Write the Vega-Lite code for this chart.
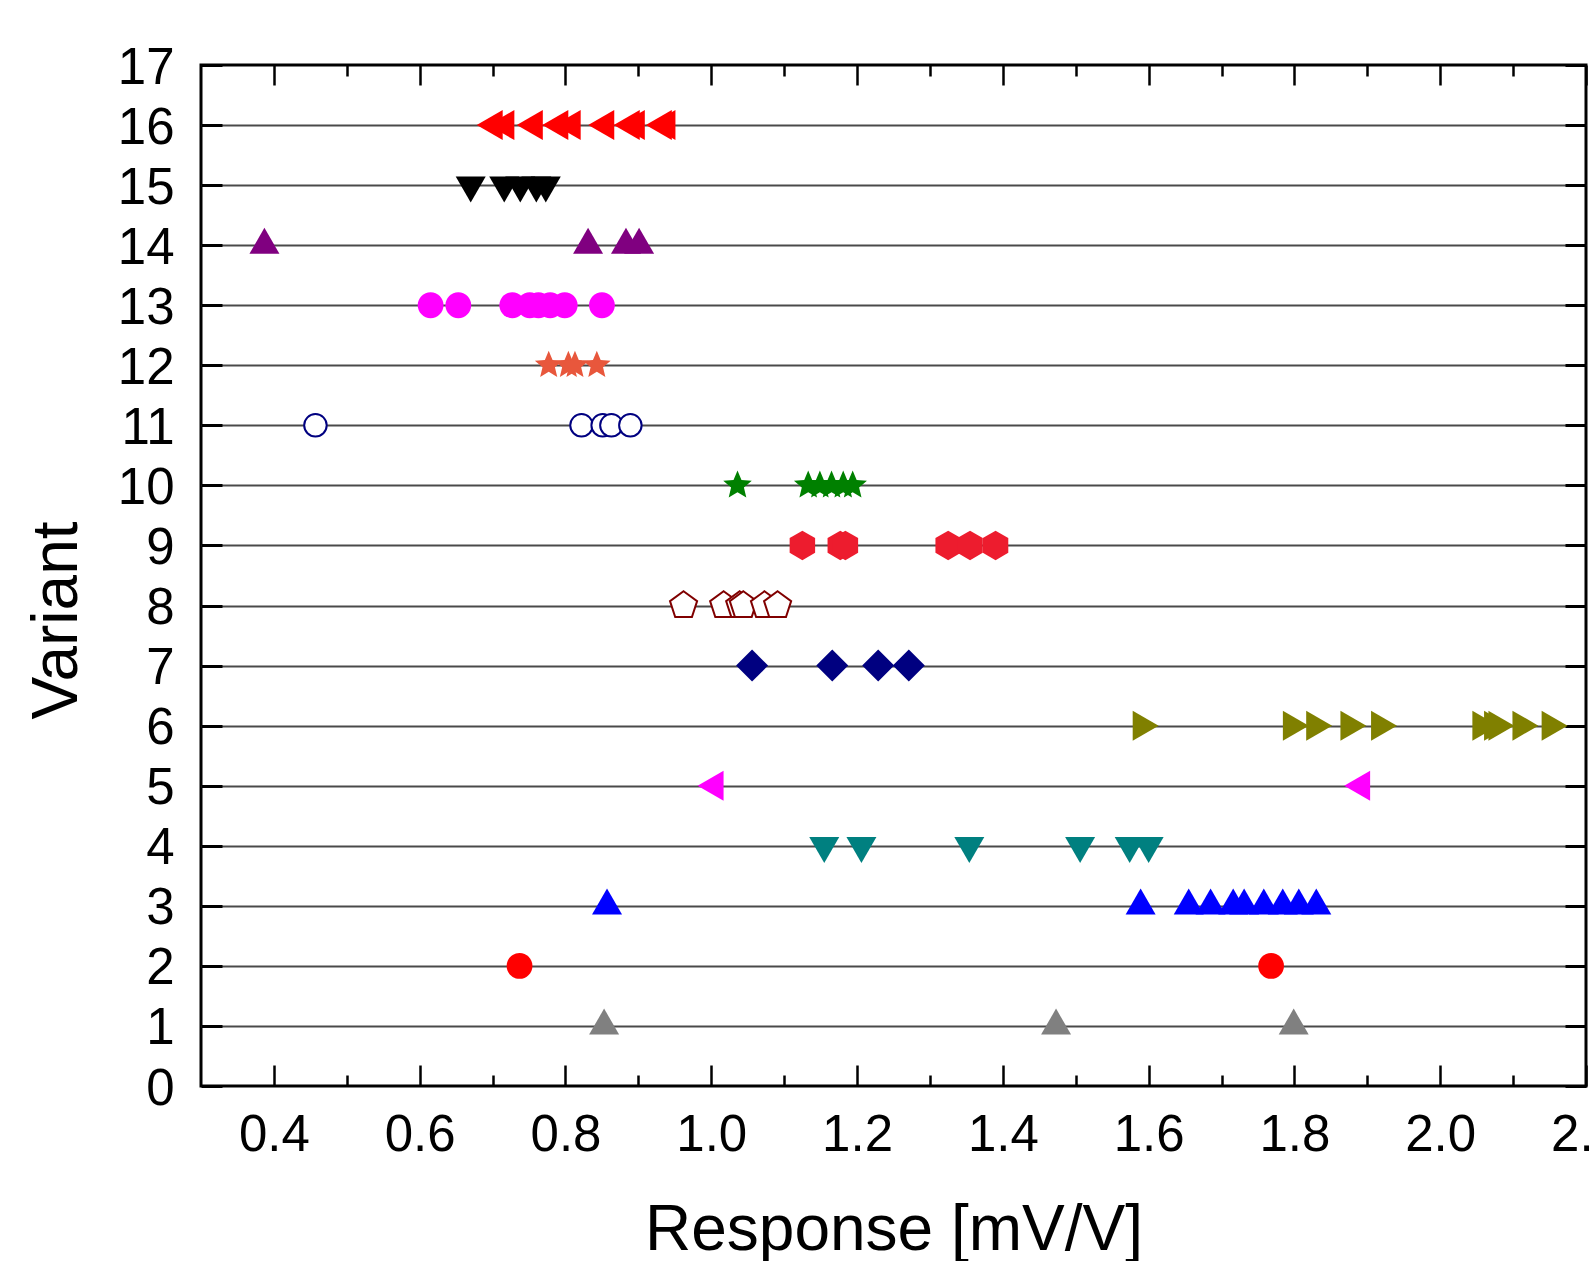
{
  "$schema": "https://vega.github.io/schema/vega-lite/v6.json",
  "width": 1385,
  "height": 1021,
  "autosize": {"type": "none"},
  "padding": {"left": 201, "top": 65, "right": 4, "bottom": 175},
  "background": "white",
  "data": {
    "values": [
      {"variant": 1, "response": 0.853}, {"variant": 1, "response": 1.473}, {"variant": 1, "response": 1.799},
      {"variant": 2, "response": 0.737}, {"variant": 2, "response": 1.768},
      {"variant": 3, "response": 0.857}, {"variant": 3, "response": 1.589}, {"variant": 3, "response": 1.655}, {"variant": 3, "response": 1.685}, {"variant": 3, "response": 1.716}, {"variant": 3, "response": 1.731}, {"variant": 3, "response": 1.758}, {"variant": 3, "response": 1.784}, {"variant": 3, "response": 1.806}, {"variant": 3, "response": 1.83},
      {"variant": 4, "response": 1.155}, {"variant": 4, "response": 1.206}, {"variant": 4, "response": 1.354}, {"variant": 4, "response": 1.506}, {"variant": 4, "response": 1.574}, {"variant": 4, "response": 1.6},
      {"variant": 5, "response": 1.005}, {"variant": 5, "response": 1.892},
      {"variant": 6, "response": 1.59}, {"variant": 6, "response": 1.796}, {"variant": 6, "response": 1.828}, {"variant": 6, "response": 1.875}, {"variant": 6, "response": 1.917}, {"variant": 6, "response": 2.056}, {"variant": 6, "response": 2.072}, {"variant": 6, "response": 2.078}, {"variant": 6, "response": 2.111}, {"variant": 6, "response": 2.151},
      {"variant": 7, "response": 1.056}, {"variant": 7, "response": 1.166}, {"variant": 7, "response": 1.229}, {"variant": 7, "response": 1.271},
      {"variant": 8, "response": 0.962}, {"variant": 8, "response": 1.017}, {"variant": 8, "response": 1.039}, {"variant": 8, "response": 1.044}, {"variant": 8, "response": 1.073}, {"variant": 8, "response": 1.091},
      {"variant": 9, "response": 1.125}, {"variant": 9, "response": 1.177}, {"variant": 9, "response": 1.184}, {"variant": 9, "response": 1.325}, {"variant": 9, "response": 1.355}, {"variant": 9, "response": 1.39},
      {"variant": 10, "response": 1.036}, {"variant": 10, "response": 1.133}, {"variant": 10, "response": 1.149}, {"variant": 10, "response": 1.165}, {"variant": 10, "response": 1.181}, {"variant": 10, "response": 1.194},
      {"variant": 11, "response": 0.457}, {"variant": 11, "response": 0.822}, {"variant": 11, "response": 0.851}, {"variant": 11, "response": 0.863}, {"variant": 11, "response": 0.889},
      {"variant": 12, "response": 0.777}, {"variant": 12, "response": 0.804}, {"variant": 12, "response": 0.813}, {"variant": 12, "response": 0.843},
      {"variant": 13, "response": 0.615}, {"variant": 13, "response": 0.653}, {"variant": 13, "response": 0.727}, {"variant": 13, "response": 0.751}, {"variant": 13, "response": 0.763}, {"variant": 13, "response": 0.779}, {"variant": 13, "response": 0.799}, {"variant": 13, "response": 0.85},
      {"variant": 14, "response": 0.387}, {"variant": 14, "response": 0.831}, {"variant": 14, "response": 0.883}, {"variant": 14, "response": 0.901},
      {"variant": 15, "response": 0.67}, {"variant": 15, "response": 0.716}, {"variant": 15, "response": 0.738}, {"variant": 15, "response": 0.76}, {"variant": 15, "response": 0.773},
      {"variant": 16, "response": 0.702}, {"variant": 16, "response": 0.718}, {"variant": 16, "response": 0.757}, {"variant": 16, "response": 0.792}, {"variant": 16, "response": 0.809}, {"variant": 16, "response": 0.855}, {"variant": 16, "response": 0.89}, {"variant": 16, "response": 0.897}, {"variant": 16, "response": 0.934}, {"variant": 16, "response": 0.939}
    ]
  },
  "layer": [
    {
      "mark": {"type": "point", "filled": true, "size": 900, "strokeWidth": 2, "opacity": 1},
      "encoding": {
        "x": {
          "field": "response", "type": "quantitative",
          "scale": {"domain": [0.3, 2.2], "nice": false, "zero": false},
          "axis": {
            "orient": "bottom",
            "values": [0.4, 0.6, 0.8, 1.0, 1.2, 1.4, 1.6, 1.8, 2.0, 2.2],
            "format": ".1f",
            "tickSize": -21, "tickWidth": 2.5,
            "labelPadding": 85, "labelBaseline": "alphabetic", "labelFlush": false, "labelOverlap": false,
            "grid": false,
            "title": "Response [mV/V]", "titleY": 163, "titleBaseline": "alphabetic"
          }
        },
        "y": {
          "field": "variant", "type": "quantitative",
          "scale": {"domain": [0, 17], "nice": false, "zero": false},
          "axis": {
            "orient": "left",
            "values": [0, 1, 2, 3, 4, 5, 6, 7, 8, 9, 10, 11, 12, 13, 14, 15, 16, 17],
            "tickSize": -21, "tickWidth": 3,
            "labelPadding": 48, "labelBaseline": "alphabetic", "labelOffset": 18, "labelOverlap": false, "labelFlush": false,
            "grid": true,
            "gridColor": {"condition": {"test": "datum.value === 0 || datum.value === 17", "value": "transparent"}, "value": "#4a4a4a"},
            "gridWidth": 2,
            "title": "Variant", "titleX": -125, "titleY": 555, "titleAngle": 270, "titleAlign": "center", "titleBaseline": "alphabetic"
          }
        },
        "shape": {
          "field": "variant", "type": "nominal", "legend": null,
          "scale": {
            "domain": [1, 2, 3, 4, 5, 6, 7, 8, 9, 10, 11, 12, 13, 14, 15, 16],
            "range": [
              "M0,-1.155L1,0.577L-1,0.577Z",
              "M0.86,0A0.86,0.86,0,1,1,-0.86,0A0.86,0.86,0,1,1,0.86,0Z",
              "M0,-1.155L1,0.577L-1,0.577Z",
              "M0,1.155L1,-0.577L-1,-0.577Z",
              "M-1.155,0L0.577,-1L0.577,1Z",
              "M1.155,0L-0.577,-1L-0.577,1Z",
              "M0,-1.067L1.067,0L0,1.067L-1.067,0Z",
              "M0,-0.95L0.904,-0.294L0.558,0.769L-0.558,0.769L-0.904,-0.294Z",
              "M0,-0.98L0.849,-0.49L0.849,0.49L0,0.98L-0.849,0.49L-0.849,-0.49Z",
              "M0,-1L0.265,-0.364L0.951,-0.309L0.428,0.139L0.588,0.809L0,0.45L-0.588,0.809L-0.428,0.139L-0.951,-0.309L-0.265,-0.364Z",
              "M0.75,0A0.75,0.75,0,1,1,-0.75,0A0.75,0.75,0,1,1,0.75,0Z",
              "M0,-0.97L0.257,-0.353L0.922,-0.3L0.415,0.135L0.57,0.785L0,0.437L-0.57,0.785L-0.415,0.135L-0.922,-0.3L-0.257,-0.353Z",
              "M0.86,0A0.86,0.86,0,1,1,-0.86,0A0.86,0.86,0,1,1,0.86,0Z",
              "M0,-1.155L1,0.577L-1,0.577Z",
              "M0,1.155L1,-0.577L-1,-0.577Z",
              "M-1.155,0L0.577,-1L0.577,1Z"
            ]
          }
        },
        "fill": {
          "field": "variant", "type": "nominal", "legend": null,
          "scale": {
            "domain": [1, 2, 3, 4, 5, 6, 7, 8, 9, 10, 11, 12, 13, 14, 15, 16],
            "range": ["#808080", "#FF0000", "#0000FF", "#008080", "#FF00FF", "#808000", "#000080", "#FFFFFF", "#ED1C2E", "#008000", "#FFFFFF", "#E8573C", "#FF00FF", "#800080", "#000000", "#FF0000"]
          }
        },
        "stroke": {
          "field": "variant", "type": "nominal", "legend": null,
          "scale": {
            "domain": [1, 2, 3, 4, 5, 6, 7, 8, 9, 10, 11, 12, 13, 14, 15, 16],
            "range": ["transparent", "transparent", "transparent", "transparent", "transparent", "transparent", "transparent", "#800000", "transparent", "transparent", "#000080", "transparent", "transparent", "transparent", "transparent", "transparent"]
          }
        }
      }
    },
    {
      "mark": {"type": "point", "opacity": 0},
      "encoding": {
        "x": {
          "field": "response", "type": "quantitative",
          "axis": {
            "orient": "top",
            "values": [0.4, 0.6, 0.8, 1.0, 1.2, 1.4, 1.6, 1.8, 2.0, 2.2],
            "tickSize": -20, "tickWidth": 2.5, "labels": false, "title": null, "grid": false
          }
        },
        "y": {
          "field": "variant", "type": "quantitative",
          "axis": {
            "orient": "right",
            "values": [0, 1, 2, 3, 4, 5, 6, 7, 8, 9, 10, 11, 12, 13, 14, 15, 16, 17],
            "tickSize": -21, "tickWidth": 3, "labels": false, "title": null, "grid": false
          }
        }
      }
    },
    {
      "mark": {"type": "point", "opacity": 0},
      "encoding": {
        "x": {
          "field": "response", "type": "quantitative",
          "axis": {
            "orient": "bottom",
            "values": [0.5, 0.7, 0.9, 1.1, 1.3, 1.5, 1.7, 1.9, 2.1],
            "tickSize": -11, "tickWidth": 2.5, "labels": false, "title": null, "grid": false
          }
        },
        "y": {"field": "variant", "type": "quantitative", "axis": null}
      }
    },
    {
      "mark": {"type": "point", "opacity": 0},
      "encoding": {
        "x": {
          "field": "response", "type": "quantitative",
          "axis": {
            "orient": "top",
            "values": [0.5, 0.7, 0.9, 1.1, 1.3, 1.5, 1.7, 1.9, 2.1],
            "tickSize": -11, "tickWidth": 2.5, "labels": false, "title": null, "grid": false
          }
        },
        "y": {"field": "variant", "type": "quantitative", "axis": null}
      }
    }
  ],
  "resolve": {"axis": {"x": "independent", "y": "independent"}},
  "config": {
    "view": {"stroke": "black", "strokeWidth": 3},
    "axis": {
      "domain": false,
      "labelFont": "Liberation Sans",
      "titleFont": "Liberation Sans",
      "labelColor": "black",
      "titleColor": "black",
      "tickColor": "black",
      "labelFontSize": 51,
      "titleFontSize": 64,
      "titleFontWeight": "normal"
    }
  }
}
